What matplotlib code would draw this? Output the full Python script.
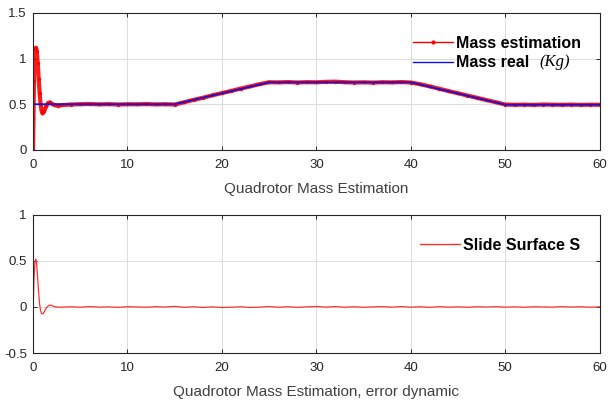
import numpy as np
import matplotlib
matplotlib.use('Agg')
import matplotlib.pyplot as plt
from matplotlib.lines import Line2D

plt.rcParams['font.family'] = ['Liberation Sans', 'DejaVu Sans']

# mass estimation (red)
t_est = [0, 0.05, 0.1, 0.15, 0.2, 0.3, 0.4, 0.5, 0.6, 0.7, 0.8, 0.9, 1.0, 1.1, 1.2,
         1.4, 1.6, 1.8, 2.0, 2.3, 2.6, 3,
         4, 5, 6, 7, 8, 9, 10, 11, 12, 13, 14, 15, 16, 17, 18, 19, 20,
         21, 22, 23, 24, 25, 26, 27, 28, 29, 30, 31, 32, 33, 34, 35, 36, 37, 38, 39, 40,
         41, 42, 43, 44, 45, 46, 47, 48, 49, 50, 51, 52, 53, 54, 55, 56, 57, 58, 59, 60]
m_est = [0, 0.35, 0.75, 1.0, 1.1, 1.12, 1.08, 0.95, 0.78, 0.62, 0.5, 0.43, 0.40, 0.41, 0.43,
         0.48, 0.515, 0.52, 0.505, 0.49, 0.485, 0.49,
         0.497, 0.500, 0.503, 0.498, 0.501, 0.497, 0.500, 0.499, 0.502, 0.498, 0.500, 0.497,
         0.522, 0.548, 0.571, 0.598, 0.622,
         0.646, 0.672, 0.695, 0.720, 0.741, 0.739, 0.743, 0.738, 0.742, 0.740, 0.745, 0.747,
         0.741, 0.738, 0.740, 0.737, 0.741, 0.739, 0.743, 0.738,
         0.719, 0.695, 0.670, 0.644, 0.620, 0.595, 0.571, 0.546, 0.522, 0.497, 0.494, 0.496,
         0.493, 0.497, 0.495, 0.494, 0.496, 0.493, 0.495, 0.494]

# real mass (blue)
t_real = [0, 15, 25, 40, 50, 60]
m_real = [0.5, 0.5, 0.74, 0.74, 0.495, 0.495]

# sliding surface (error dynamic)
t_err = [0, 0.02, 0.1, 0.2, 0.3, 0.4, 0.5, 0.6, 0.7, 0.8, 0.9, 1.0, 1.1, 1.3, 1.5, 1.7,
         1.9, 2.1, 2.4, 3,
         4, 5, 6, 7, 8, 9, 10, 11, 12, 13, 14, 15, 16, 17, 18, 19, 20,
         21, 22, 23, 24, 25, 26, 27, 28, 29, 30, 31, 32, 33, 34, 35, 36, 37, 38, 39, 40,
         41, 42, 43, 44, 45, 46, 47, 48, 49, 50, 51, 52, 53, 54, 55, 56, 57, 58, 59, 60]
s_err = [-0.5, 0.0, 0.3, 0.48, 0.52, 0.45, 0.3, 0.15, 0.03, -0.04, -0.07, -0.075, -0.07,
         -0.03, 0.0, 0.018, 0.02, 0.01, 0.0, -0.003,
         0.002, -0.003, 0.004, -0.002, 0.001, -0.004, 0.002, 0.0, -0.003, 0.003, -0.001, 0.006,
         -0.004, 0.002, -0.005, 0.001, -0.006,
         -0.003, 0.002, -0.006, -0.002, 0.004, -0.003, 0.002, -0.004, 0.001, 0.005, -0.002,
         0.004, -0.003, 0.002, -0.004, 0.001, 0.003, -0.002, 0.004, -0.003,
         0.002, -0.004, 0.003, -0.002, 0.001, -0.003, 0.002, -0.001, 0.003, -0.002,
         0.001, -0.003, 0.002, 0.0, -0.002, 0.003, -0.001, 0.002, -0.003, 0.001]

xticks = [0, 10, 20, 30, 40, 50, 60]
yticks_top = [0, 0.5, 1, 1.5]
yticks_bot = [-0.5, 0, 0.5, 1]

fig = plt.figure(figsize=(6.08, 4.03), dpi=100)
ax1 = fig.add_axes([0.0543, 0.628, 0.932, 0.340])
ax2 = fig.add_axes([0.0543, 0.124, 0.932, 0.343])

dark = '#262626'
for ax in (ax1, ax2):
    ax.set_xlim(0, 60)
    ax.set_xticks(xticks)
    ax.grid(True, color='#dcdcdc', linewidth=0.7)
    ax.set_axisbelow(True)
    ax.tick_params(direction='in', top=True, right=True, length=3, width=0.7,
                   labelsize=9.5, colors=dark, pad=4.5)
    ax.tick_params(axis='x', pad=6.5)
    for sp in ax.spines.values():
        sp.set_color(dark)
        sp.set_linewidth(0.8)

ax1.plot(t_est, m_est, color='red', lw=3.0, marker='.', markersize=3, alpha=0.9)
ax1.plot(t_real, m_real, color='#1010e0', lw=1.3)
ax1.set_ylim(0, 1.5)
ax1.set_yticks(yticks_top)
ax1.set_yticklabels(['0', '0.5', '1', '1.5'])
ax1.set_xlabel('Quadrotor Mass Estimation', fontsize=11, color='#404040', labelpad=8)

h1 = [Line2D([], [], color='red', lw=1, marker='.', markersize=4),
      Line2D([], [], color='#1010e0', lw=1)]
ax1.legend(h1, ['Mass estimation', 'Mass real'], loc='upper left',
           frameon=False, prop={'weight': 'bold', 'size': 11.5},
           handlelength=2.5, handletextpad=0.2, labelspacing=0.3,
           bbox_to_anchor=(0.657, 0.893), borderpad=0)
ax1.text(0.893, 0.64, '(Kg)', transform=ax1.transAxes, fontsize=12,
         family='Liberation Serif', style='italic', va='center', ha='left')

ax2.plot(t_err, s_err, color='#ff3030', lw=0.9)
ax2.set_ylim(-0.5, 1)
ax2.set_yticks(yticks_bot)
ax2.set_yticklabels(['-0.5', '0', '0.5', '1'])
ax2.set_xlabel('Quadrotor Mass Estimation, error dynamic', fontsize=11, color='#404040',
               labelpad=8)
h2 = [Line2D([], [], color='#ff3030', lw=1)]
ax2.legend(h2, ['Slide Surface S'], loc='upper left', frameon=False,
           prop={'weight': 'bold', 'size': 11.5}, handlelength=2.5, handletextpad=0.2,
           bbox_to_anchor=(0.669, 0.893), borderpad=0)

fig.savefig('out.png', dpi=100)
